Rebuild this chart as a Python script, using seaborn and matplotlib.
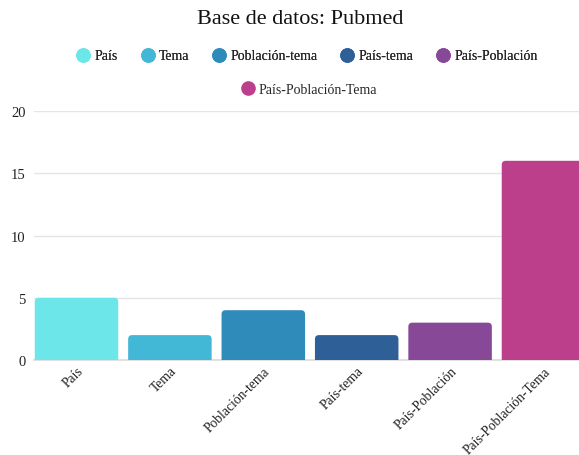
import matplotlib
matplotlib.use("Agg")
import matplotlib.pyplot as plt
import seaborn as sns
import pandas as pd
from matplotlib.lines import Line2D
from matplotlib.patches import FancyBboxPatch

categories = ["País", "Tema", "Población-tema", "País-tema", "País-Población", "País-Población-Tema"]
values = [5, 2, 4, 2, 3, 16]
colors = ["#6ce6e8", "#42b7d6", "#2e8bba", "#2e5f97", "#874898", "#bb3f8a"]
yticks = [0, 5, 10, 15, 20]

sns.set_theme(style="white")
plt.rcParams["font.family"] = ["Liberation Serif", "DejaVu Serif"]

W, H = 579, 456
fig = plt.figure(figsize=(W / 100, H / 100), dpi=100)
ax = fig.add_axes([34 / W, (H - 361) / H, 545 / W, (361 - 112) / H])

df = pd.DataFrame({"cat": categories, "val": values})
sns.barplot(data=df, x="cat", y="val", hue="cat", palette=colors, dodge=False,
            width=0.894, legend=False, ax=ax, saturation=1)

xspan = 545 / 93.4
ax.set_xlim(-0.455, -0.455 + xspan)
ax.set_ylim(0, 20)

# rounded top corners
px_per_x = 93.4
px_per_y = 249 / 20
aspect = px_per_x / px_per_y
r = 4 / px_per_x
for p in list(ax.patches):
    x0, w, h = p.get_x(), p.get_width(), p.get_height()
    fc = p.get_facecolor()
    p.remove()
    ax.add_patch(FancyBboxPatch((x0, -0.6), w, h + 0.6,
                                boxstyle=f"round,pad=0,rounding_size={r}",
                                mutation_aspect=aspect, fc=fc, ec="none", zorder=2))

ax.set_yticks(yticks)
ax.set_yticklabels([str(t) for t in yticks], fontsize=10.5, color="#222")
ax.yaxis.grid(True, color="#e5e5e5", linewidth=1)
ax.set_axisbelow(True)
for s in ["top", "right", "left"]:
    ax.spines[s].set_visible(False)
ax.spines["bottom"].set_color("#dddddd")
ax.spines["bottom"].set_zorder(1)
ax.set_xlabel("")
ax.set_ylabel("")
ax.tick_params(axis="y", length=0, pad=6)
ax.tick_params(axis="x", length=0, pad=3)
plt.setp(ax.get_xticklabels(), rotation=45, ha="right", rotation_mode="anchor",
         fontsize=9.8, color="#222")

fig.text(300 / W, 1 - 20 / H, "Base de datos: Pubmed", ha="center", va="center",
         fontsize=16, color="#111")

handles = [Line2D([], [], marker="o", linestyle="", markersize=9.5,
                  markerfacecolor=c, markeredgecolor=c) for c in colors]
leg1 = fig.legend(handles[:5], categories[:5], loc="center", ncol=5,
                  bbox_to_anchor=(307 / W, 1 - 57 / H), frameon=False, fontsize=10,
                  handletextpad=0.3, columnspacing=1.65, handlelength=1.0)
fig.add_artist(leg1)
fig.legend(handles[5:], categories[5:], loc="center", ncol=1,
           bbox_to_anchor=(309 / W, 1 - 90 / H), frameon=False, fontsize=10,
           handletextpad=0.3, handlelength=1.0)

fig.savefig("out.png", dpi=100)
